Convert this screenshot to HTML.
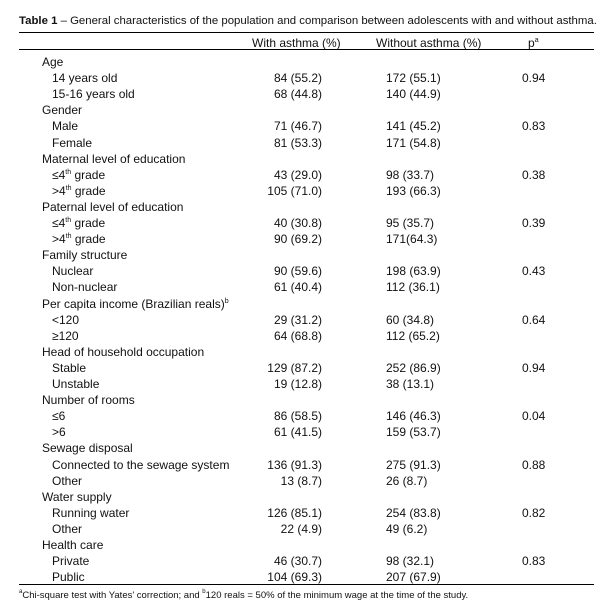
<!DOCTYPE html>
<html><head><meta charset="utf-8"><style>
body{margin:0;width:601px;height:615px;background:#fff;position:relative;font-family:"Liberation Sans","DejaVu Sans",sans-serif;font-size:12px;color:#111;overflow:hidden}
div{position:absolute;white-space:nowrap;line-height:14px}
sup{line-height:0;vertical-align:5px;font-size:7px}
.l{left:42px}.s{left:52px}
.a{right:279px;text-align:right}
.w{left:386px}
.p{left:522px}
.hr{height:1px;background:#000;left:19px;width:575px}
</style></head><body>
<div style="left:19px;top:14px;font-size:11.4px"><b>Table 1</b> – General characteristics of the population and comparison between adolescents with and without asthma.</div>
<div class="hr" style="top:32px"></div>
<div style="left:252px;top:36px">With asthma (%)</div>
<div style="left:376px;top:36px">Without asthma (%)</div>
<div style="left:528px;top:36px">p<sup>a</sup></div>
<div class="hr" style="top:49px"></div>
<div id="rows"></div>
<div class="hr" style="top:584px"></div>
<div style="left:19px;top:589px;font-size:9.5px"><sup style="font-size:6px">a</sup>Chi-square test with Yates' correction; and <sup style="font-size:6px">b</sup>120 reals = 50% of the minimum wage at the time of the study.</div>
<script>
var R=[["c","Age"],["s","14 years old","84 (55.2)","172 (55.1)","0.94"],["s","15-16 years old","68 (44.8)","140 (44.9)"],
["c","Gender"],["s","Male","71 (46.7)","141 (45.2)","0.83"],["s","Female","81 (53.3)","171 (54.8)"],
["c","Maternal level of education"],["s","≤4<sup>th</sup> grade","43 (29.0)","98 (33.7)","0.38"],["s","&gt;4<sup>th</sup> grade","105 (71.0)","193 (66.3)"],
["c","Paternal level of education"],["s","≤4<sup>th</sup> grade","40 (30.8)","95 (35.7)","0.39"],["s","&gt;4<sup>th</sup> grade","90 (69.2)","171(64.3)"],
["c","Family structure"],["s","Nuclear","90 (59.6)","198 (63.9)","0.43"],["s","Non-nuclear","61 (40.4)","112 (36.1)"],
["c","Per capita income (Brazilian reals)<sup>b</sup>"],["s","&lt;120","29 (31.2)","60 (34.8)","0.64"],["s","≥120","64 (68.8)","112 (65.2)"],
["c","Head of household occupation"],["s","Stable","129 (87.2)","252 (86.9)","0.94"],["s","Unstable","19 (12.8)","38 (13.1)"],
["c","Number of rooms"],["s","≤6","86 (58.5)","146 (46.3)","0.04"],["s","&gt;6","61 (41.5)","159 (53.7)"],
["c","Sewage disposal"],["s","Connected to the sewage system","136 (91.3)","275 (91.3)","0.88"],["s","Other","13 (8.7)","26 (8.7)"],
["c","Water supply"],["s","Running water","126 (85.1)","254 (83.8)","0.82"],["s","Other","22 (4.9)","49 (6.2)"],
["c","Health care"],["s","Private","46 (30.7)","98 (32.1)","0.83"],["s","Public","104 (69.3)","207 (67.9)"]];
var h="";R.forEach(function(r,i){var t=55+i*16.1;
h+='<div class="'+(r[0]=="c"?"l":"s")+'" style="top:'+t+'px">'+r[1]+'</div>';
if(r[2])h+='<div class="a" style="top:'+t+'px">'+r[2]+'</div><div class="w" style="top:'+t+'px">'+r[3]+'</div>';
if(r[4])h+='<div class="p" style="top:'+t+'px">'+r[4]+'</div>';});
document.getElementById("rows").outerHTML=h;
</script>
</body></html>
